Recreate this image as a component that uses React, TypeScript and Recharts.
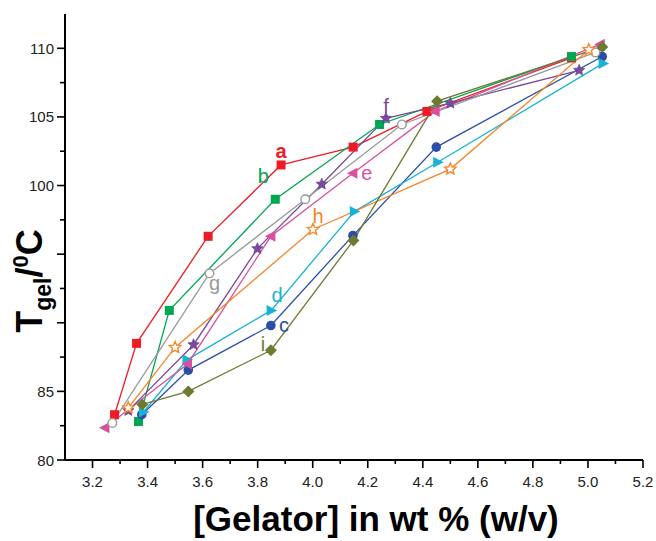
import React from "react";
import { LineChart, Line, XAxis, YAxis, LabelList } from "recharts";

// Gel melting temperature vs gelator concentration, series a..i
const aX = [3.28, 3.36, 3.62, 3.885, 4.147, 4.415, 4.94];
const aY = [83.3, 88.5, 96.3, 101.5, 102.8, 105.4, 109.3];

const bX = [3.367, 3.479, 3.864, 4.243, 4.94];
const bY = [82.8, 90.9, 99.0, 104.45, 109.4];

const cX = [3.379, 3.548, 3.848, 4.146, 4.449, 5.052];
const cY = [83.3, 86.55, 89.8, 96.35, 102.8, 109.4];

const dX = [3.385, 3.543, 3.849, 4.151, 4.454, 5.055];
const dY = [83.5, 87.3, 90.9, 98.1, 101.7, 108.9];

const eX = [3.245, 3.545, 3.848, 4.146, 4.445, 5.045];
const eY = [82.35, 87.0, 96.3, 100.9, 105.4, 110.3];

const fX = [3.33, 3.567, 3.799, 4.033, 4.266, 4.5, 4.968];
const fY = [83.6, 88.4, 95.4, 100.1, 104.9, 106.0, 108.4];

const gX = [3.272, 3.625, 3.973, 4.324, 5.027];
const gY = [82.7, 93.6, 99.0, 104.45, 109.7];

const hX = [3.33, 3.5, 4.001, 4.5, 5.003];
const hY = [83.8, 88.2, 96.8, 101.2, 109.9];

const iX = [3.381, 3.548, 3.848, 4.148, 4.452, 5.052];
const iY = [84.05, 85.0, 88.0, 96.0, 106.15, 110.1];

const xTicks = [
  3.2, 3.3, 3.4, 3.5, 3.6, 3.7, 3.8, 3.9, 4.0, 4.1, 4.2, 4.3, 4.4, 4.5, 4.6,
  4.7, 4.8, 4.9, 5.0, 5.1, 5.2,
];
const xTickLabels = ["3.2", "3.4", "3.6", "3.8", "4.0", "4.2", "4.4", "4.6", "4.8", "5.0", "5.2"];
const yTicks = [80, 82.5, 85, 87.5, 90, 92.5, 95, 97.5, 100, 102.5, 105, 107.5, 110];
const yTickLabels = ["80", "85", "100", "105", "110"];

const FONT = "'Liberation Sans', Arial, Helvetica, sans-serif";

type Shape = "square" | "circle" | "triRight" | "triLeft" | "star" | "openCircle" | "openStar" | "diamond";

const series = [
  { name: "a", xs: aX, ys: aY, color: "#ED1C24", shape: "square" as Shape, at: 3, dx: 0, dy: -14, bold: true },
  { name: "b", xs: bX, ys: bY, color: "#00A651", shape: "square" as Shape, at: 2, dx: -12, dy: -23, bold: false },
  { name: "c", xs: cX, ys: cY, color: "#2B4EA6", shape: "circle" as Shape, at: 2, dx: 13, dy: -1, bold: false },
  { name: "d", xs: dX, ys: dY, color: "#1AB2D6", shape: "triRight" as Shape, at: 2, dx: 6, dy: -15, bold: false },
  { name: "e", xs: eX, ys: eY, color: "#D8519F", shape: "triLeft" as Shape, at: 3, dx: 14, dy: 0, bold: false },
  { name: "f", xs: fX, ys: fY, color: "#7A4A9C", shape: "star" as Shape, at: 4, dx: 0, dy: -12, bold: false },
  { name: "g", xs: gX, ys: gY, color: "#999999", shape: "openCircle" as Shape, at: 1, dx: 5, dy: 10, bold: false },
  { name: "h", xs: hX, ys: hY, color: "#F5862A", shape: "openStar" as Shape, at: 2, dx: 5, dy: -13, bold: false },
  { name: "i", xs: iX, ys: iY, color: "#6E7A31", shape: "diamond" as Shape, at: 2, dx: -8, dy: -6, bold: false },
];

function starPoints(cx: number, cy: number, R: number, r: number) {
  const pts: string[] = [];
  for (let k = 0; k < 10; k++) {
    const ang = -Math.PI / 2 + (k * Math.PI) / 5;
    const rad = k % 2 === 0 ? R : r;
    pts.push(`${cx + rad * Math.cos(ang)},${cy + rad * Math.sin(ang)}`);
  }
  return pts.join(" ");
}

function marker(shape: Shape, color: string) {
  return (props: any) => {
    const { cx, cy, index } = props;
    if (cx == null || cy == null) return <g key={index} />;
    switch (shape) {
      case "square":
        return <rect key={index} x={cx - 4.5} y={cy - 4.5} width={9} height={9} fill={color} />;
      case "circle":
        return <circle key={index} cx={cx} cy={cy} r={4.8} fill={color} />;
      case "openCircle":
        return <circle key={index} cx={cx} cy={cy} r={4.3} fill="#fff" stroke={color} strokeWidth={1.4} />;
      case "triRight":
        return (
          <polygon key={index} points={`${cx - 4.5},${cy - 5.5} ${cx - 4.5},${cy + 5.5} ${cx + 6},${cy}`} fill={color} />
        );
      case "triLeft":
        return (
          <polygon key={index} points={`${cx + 4.5},${cy - 5.5} ${cx + 4.5},${cy + 5.5} ${cx - 6},${cy}`} fill={color} />
        );
      case "star":
        return <polygon key={index} points={starPoints(cx, cy, 6, 2.8)} fill={color} stroke="#5a3a86" strokeWidth={0.6} />;
      case "openStar":
        return (
          <polygon key={index} points={starPoints(cx, cy, 6, 2.8)} fill="#fff" stroke={color} strokeWidth={1.4} />
        );
      case "diamond":
        return (
          <polygon
            key={index}
            points={`${cx},${cy - 6} ${cx + 6},${cy} ${cx},${cy + 6} ${cx - 6},${cy}`}
            fill={color}
          />
        );
    }
    return <g key={index} />;
  };
}

const XTick = (props: any) => {
  const { x, y, payload } = props;
  const label = Number(payload.value).toFixed(1);
  const major = xTickLabels.includes(label);
  return (
    <g>
      <line x1={x} y1={y} x2={x} y2={y + (major ? 8 : 4)} stroke="#000" strokeWidth={1.6} />
      {major && (
        <text x={x} y={y + 27} textAnchor="middle" fontSize={15} fontFamily={FONT} fill="#222">
          {label}
        </text>
      )}
    </g>
  );
};

const YTick = (props: any) => {
  const { x, y, payload } = props;
  const label = String(payload.value);
  const major = Number(payload.value) % 5 === 0;
  return (
    <g>
      <line x1={x} y1={y} x2={x - (major ? 8 : 5)} y2={y} stroke="#000" strokeWidth={1.6} />
      {yTickLabels.includes(label) && (
        <text x={x - 11} y={y} textAnchor="end" dominantBaseline="central" fontSize={15} fontFamily={FONT} fill="#222">
          {label}
        </text>
      )}
    </g>
  );
};

export default function App() {
  return (
    <div style={{ position: "absolute", left: 0, top: 0, background: "#fff" }}>
      <LineChart width={656} height={541} margin={{ top: 14, right: 13, bottom: 0, left: 0 }}>
        <XAxis
          type="number"
          dataKey="x"
          domain={[3.1, 5.2]}
          ticks={xTicks}
          interval={0}
          tick={<XTick />}
          tickSize={0}
          tickMargin={0}
          tickLine={false}
          axisLine={{ stroke: "#000", strokeWidth: 2 }}
          height={81}
          allowDuplicatedCategory={false}
          label={{
            content: (p: any) => {
              const vb = p.viewBox;
              return (
                <text
                  x={vb.x + vb.width / 2 + 22}
                  y={531}
                  textAnchor="middle"
                  fontSize={35}
                  fontWeight="bold"
                  fontFamily={FONT}
                  fill="#000"
                >
                  [Gelator] in wt % (w/v)
                </text>
              );
            },
          }}
        />
        <YAxis
          type="number"
          domain={[80, 112.5]}
          ticks={yTicks}
          interval={0}
          tick={<YTick />}
          tickSize={0}
          tickMargin={0}
          tickLine={false}
          axisLine={{ stroke: "#000", strokeWidth: 2 }}
          width={65}
          label={{
            content: () => (
              <text
                x={42}
                y={281}
                transform="rotate(-90 42 281)"
                textAnchor="middle"
                fontSize={36}
                fontWeight="bold"
                fontFamily={FONT}
                fill="#000"
              >
                <tspan>T</tspan>
                <tspan fontSize={23} dy={9}>gel</tspan>
                <tspan dy={-9}>/</tspan>
                <tspan fontSize={22} dy={-14}>0</tspan>
                <tspan dy={14}>C</tspan>
              </text>
            ),
          }}
        />
        {series.map((s) => (
          <Line
            key={s.name}
            data={s.xs.map((x, i) => ({ x, y: s.ys[i] }))}
            dataKey="y"
            type="linear"
            stroke={s.color}
            strokeWidth={1.3}
            dot={marker(s.shape, s.color)}
            activeDot={false}
            isAnimationActive={false}
          >
            <LabelList
              dataKey="y"
              content={(p: any) =>
                p.index === s.at ? (
                  <text
                    x={Number(p.x) + s.dx}
                    y={Number(p.y) + s.dy}
                    textAnchor="middle"
                    dominantBaseline="central"
                    fontSize={20}
                    fontWeight={s.bold ? "bold" : "normal"}
                    fontFamily={FONT}
                    fill={s.color}
                  >
                    {s.name}
                  </text>
                ) : null
              }
            />
          </Line>
        ))}
      </LineChart>
    </div>
  );
}
